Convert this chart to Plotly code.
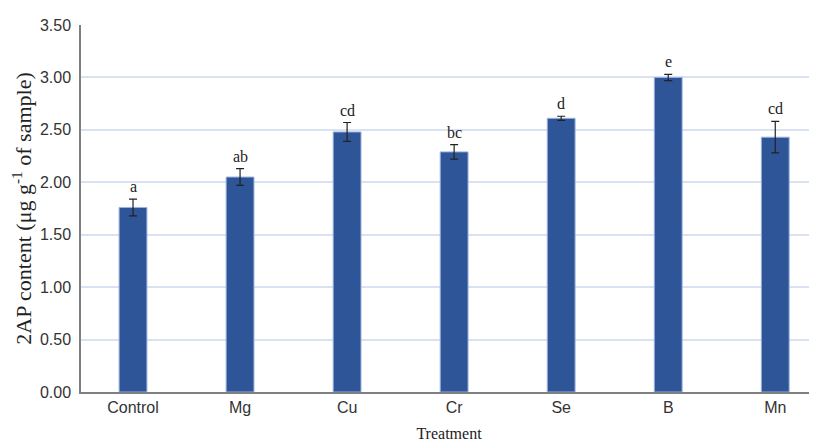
import plotly.graph_objects as go

categories = ["Control", "Mg", "Cu", "Cr", "Se", "B", "Mn"]
values = [1.76, 2.05, 2.48, 2.29, 2.61, 3.00, 2.43]
errors = [0.08, 0.08, 0.09, 0.07, 0.02, 0.03, 0.15]
letters = ["a", "ab", "cd", "bc", "d", "e", "cd"]
yticks = [0, 0.5, 1.0, 1.5, 2.0, 2.5, 3.0, 3.5]
ytick_text = ["0.00", "0.50", "1.00", "1.50", "2.00", "2.50", "3.00", "3.50"]

fig = go.Figure()
fig.add_trace(go.Bar(
    x=categories, y=values, width=0.26,
    marker=dict(color="#2E5597", line=dict(color="#9DB3DB", width=1)),
    error_y=dict(type="data", array=errors, visible=True, color="#222222",
                 thickness=1.2, width=4),
    showlegend=False,
))

for c, v, e, t in zip(categories, values, errors, letters):
    fig.add_annotation(x=c, y=v + e, text=t, showarrow=False, yanchor="bottom",
                       yshift=2, font=dict(family="Liberation Serif", size=16, color="#222222"))

# page has an 8px body margin, so the figure is sized to fit the window
fig.update_layout(
    width=809, height=434,
    margin=dict(l=73, r=0, t=17, b=50),
    plot_bgcolor="white", paper_bgcolor="white",
)
fig.update_xaxes(
    range=[-0.486, 6.39], showline=True, linecolor="#7F7F7F", linewidth=1.5,
    ticks="", tickfont=dict(family="Liberation Sans", size=16, color="#333333"),
    title=dict(text="Treatment", font=dict(family="Liberation Serif", size=16, color="#222222"),
               standoff=13),
    showgrid=False, automargin=False,
)
fig.update_yaxes(
    range=[0, 3.5], tickvals=yticks, ticktext=ytick_text,
    showline=True, linecolor="#7F7F7F", linewidth=1.5,
    showgrid=True, gridcolor="#D9E2F3", gridwidth=1.5,
    ticks="outside", ticklen=5, tickcolor="rgba(0,0,0,0)",
    tickfont=dict(family="Liberation Sans", size=16, color="#333333"),
    title=dict(text="2AP content (μg g<sup>-1</sup> of sample)",
               font=dict(family="Liberation Serif", size=22, color="#222222"), standoff=14),
    zeroline=False, automargin=False,
)

fig.write_html("out.html")
